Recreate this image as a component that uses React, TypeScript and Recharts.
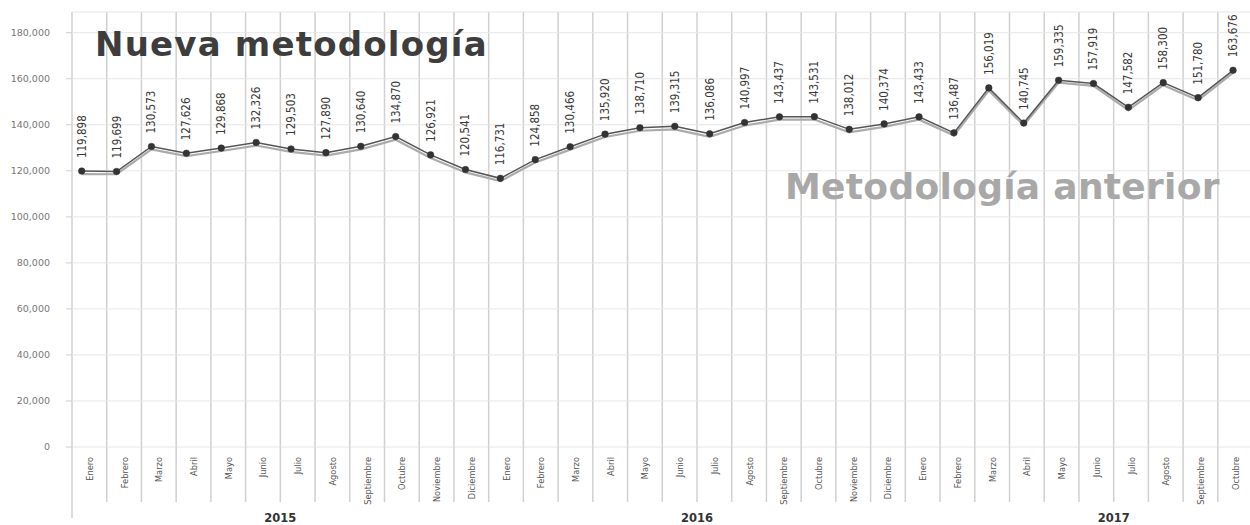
import React from 'react';
import { LineChart, Line, XAxis, YAxis, CartesianGrid, LabelList } from 'recharts';

// ---- data ----
const MONTHS = ['Enero', 'Febrero', 'Marzo', 'Abril', 'Mayo', 'Junio', 'Julio', 'Agosto', 'Septiembre', 'Octubre', 'Noviembre', 'Diciembre'];
const YEARS = ['2015', '2016', '2017'];
const NUEVA = [
  119898, 119699, 130573, 127626, 129868, 132326, 129503, 127890, 130640, 134870, 126921, 120541,
  116731, 124858, 130466, 135920, 138710, 139315, 136086, 140997, 143437, 143531, 138012, 140374,
  143433, 136487, 156019, 140745, 159335, 157919, 147582, 158300, 151780, 163676,
];
const ANTERIOR = [
  118600, 118500, 129300, 126400, 128600, 131000, 128200, 126600, 129300, 133500, 125600, 119300,
  115500, 123600, 129200, 134700, 137400, 138000, 134800, 139700, 142200, 142300, 136700, 139100,
  142200, 135400, 154900, 139700, 158300, 156900, 146400, 157200, 150700, 162600,
];
const Y_TICKS = [0, 20000, 40000, 60000, 80000, 100000, 120000, 140000, 160000, 180000];
const TITLE_NEW = 'Nueva metodología';
const TITLE_OLD = 'Metodología anterior';

// ---- layout ----
const CHART_W = 1322;
const CHART_H = 525;
const Y_AXIS_W = 72;
const X_AXIS_H = 78;
const N_BANDS = MONTHS.length * YEARS.length;
const BAND_W = (CHART_W - Y_AXIS_W) / N_BANDS;
const NARROW = "'Liberation Sans Narrow', 'DejaVu Sans Condensed', 'Arial Narrow', sans-serif";

const rows = NUEVA.map((v, idx) => ({
  idx,
  nueva: v,
  anterior: ANTERIOR[idx],
}));

const bandTicks = Array.from({ length: N_BANDS + 1 }, (_, i) => i);

const MonthTick = (props: any) => {
  const { x, y, payload } = props;
  const i = payload.value as number;
  const monthIdx = i % MONTHS.length;
  const yearIdx = Math.floor(i / MONTHS.length);
  const cx = x + BAND_W / 2;
  const top = y + 10;
  return (
    <g>
      <line x1={x} y1={y} x2={x} y2={y + (i === 0 ? 71 : 55)} stroke="#d0d0d0" strokeWidth={1.5} />
      {i < rows.length && (
        <text
          x={cx}
          y={top}
          transform={`rotate(-90, ${cx}, ${top})`}
          textAnchor="end"
          dominantBaseline="central"
          fontFamily={NARROW}
          fontSize={9.2}
          fill="#555"
        >
          {MONTHS[monthIdx]}
        </text>
      )}
      {monthIdx === MONTHS.length / 2 && YEARS[yearIdx] && (
        <text
          x={x}
          y={y + 71}
          textAnchor="middle"
          dominantBaseline="central"
          fontFamily="'DejaVu Sans', sans-serif"
          fontWeight="bold"
          fontSize={11.5}
          fill="#333"
        >
          {YEARS[yearIdx]}
        </text>
      )}
    </g>
  );
};

const ValueLabel = (props: any) => {
  const { x, y, value } = props;
  if (value == null) return null;
  const ly = y - 13;
  return (
    <text
      x={x}
      y={ly}
      transform={`rotate(-90, ${x}, ${ly})`}
      textAnchor="start"
      dominantBaseline="central"
      fontFamily={NARROW}
      fontSize={11.5}
      fill="#3a3a3a"
    >
      {Number(value).toLocaleString('en-US')}
    </text>
  );
};

export default function App() {
  return (
    <div style={{ position: 'fixed', left: 0, top: 0, width: 1250, height: 525, overflow: 'hidden', background: '#fff' }}>
      <LineChart
        width={CHART_W}
        height={CHART_H}
        data={rows}
        margin={{ top: 12, right: 0, bottom: 0, left: 0 }}
      >
        <CartesianGrid xAxisId="m" stroke="#d0d0d0" strokeWidth={1.5} horizontal={false} />
        <CartesianGrid xAxisId="m" stroke="#e6e6e6" strokeWidth={1} vertical={false} />
        <XAxis
          xAxisId="m"
          type="number"
          dataKey="idx"
          domain={[0, N_BANDS]}
          ticks={bandTicks}
          interval={0}
          height={X_AXIS_H}
          axisLine={false}
          tickLine={false}
          tickSize={0}
          tickMargin={0}
          tick={<MonthTick />}
          allowDataOverflow
        />
        <XAxis xAxisId="p" type="number" dataKey="idx" domain={[-0.278, 35.55]} hide allowDataOverflow />
        <YAxis
          width={Y_AXIS_W}
          domain={[0, 189000]}
          ticks={Y_TICKS}
          interval={0}
          axisLine={false}
          tickLine={{ stroke: '#cfcfcf' }}
          tickSize={6}
          tickMargin={16}
          tick={{ fontFamily: "'DejaVu Sans', sans-serif", fontSize: 9.5, fill: '#777' }}
          tickFormatter={(v: number) => v.toLocaleString('en-US')}
          allowDataOverflow
        />
        <Line
          xAxisId="p"
          type="linear"
          dataKey="anterior"
          stroke="#ababab"
          strokeWidth={2.2}
          dot={false}
          activeDot={false}
          isAnimationActive={false}
        />
        <Line
          xAxisId="p"
          type="linear"
          dataKey="nueva"
          stroke="#555"
          strokeWidth={1.5}
          dot={{ r: 3.3, fill: '#333', stroke: '#333', strokeWidth: 0.5 }}
          activeDot={false}
          isAnimationActive={false}
        >
          <LabelList dataKey="nueva" content={<ValueLabel />} />
        </Line>
      </LineChart>
      <svg width={1250} height={525} style={{ position: 'absolute', left: 0, top: 0, pointerEvents: 'none' }}>
        <text x={95} y={56} fontFamily="'DejaVu Sans', sans-serif" fontWeight="bold" fontSize={34} letterSpacing={1.2} fill="#3d3d3d">
          {TITLE_NEW}
        </text>
        <text x={785} y={199} fontFamily="'DejaVu Sans', sans-serif" fontWeight="bold" fontSize={36} letterSpacing={0.3} fill="#a8a8a8">
          {TITLE_OLD}
        </text>
      </svg>
    </div>
  );
}
